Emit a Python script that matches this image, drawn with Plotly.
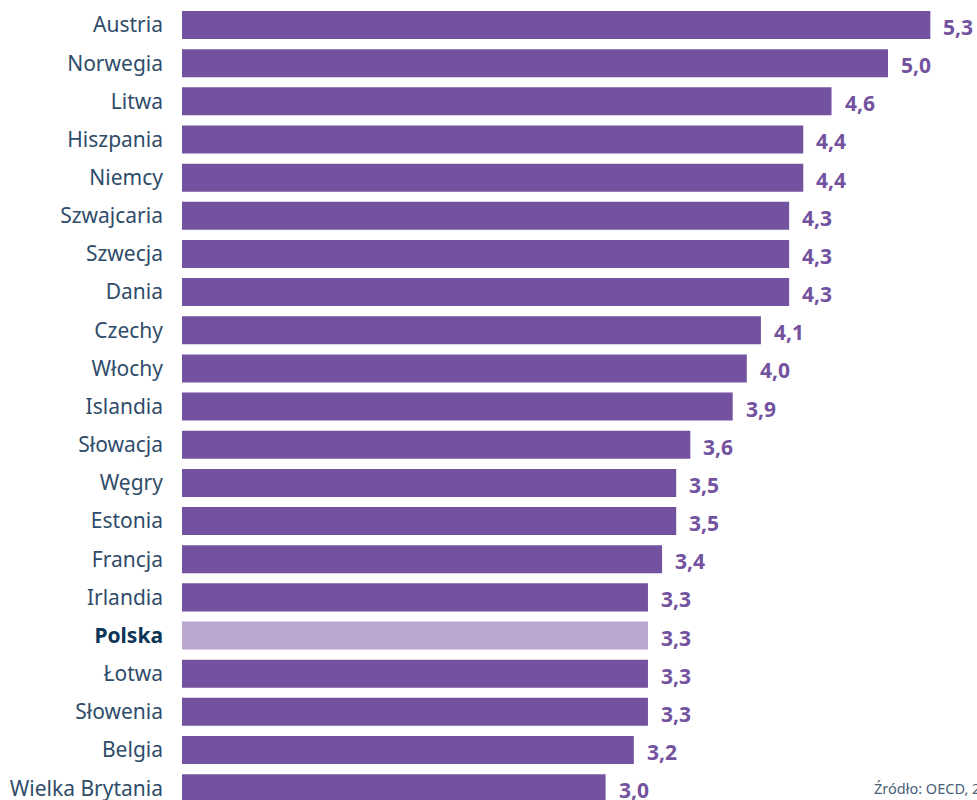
import plotly.graph_objects as go

countries = ["Austria", "Norwegia", "Litwa", "Hiszpania", "Niemcy", "Szwajcaria", "Szwecja",
             "Dania", "Czechy", "Włochy", "Islandia", "Słowacja", "Węgry", "Estonia", "Francja",
             "Irlandia", "Polska", "Łotwa", "Słowenia", "Belgia", "Wielka Brytania"]
values = [5.3, 5.0, 4.6, 4.4, 4.4, 4.3, 4.3, 4.3, 4.1, 4.0, 3.9, 3.6, 3.5, 3.5, 3.4,
          3.3, 3.3, 3.3, 3.3, 3.2, 3.0]
highlight = "Polska"
source_text = "Źródło: OECD, 2019"

BAR = "#7352a0"
HL = "#bba6cf"
LABEL = "#2f4c6a"
HL_LABEL = "#0d3557"

colors = [HL if c == highlight else BAR for c in countries]
ticktext = [f"<b><span style='color:{HL_LABEL}'>{c}</span></b>" if c == highlight else c for c in countries]
labels = [f"{v:.1f}".replace(".", ",") for v in values]

fig = go.Figure()
fig.add_trace(go.Bar(
    x=values, y=countries, orientation="h",
    marker=dict(color=colors, line=dict(width=0)),
    hoverinfo="skip",
))

for c, v, t in zip(countries, values, labels):
    fig.add_annotation(
        x=v, y=c, text=f"<b>{t}</b>", showarrow=False,
        xanchor="left", yanchor="middle", xshift=11, yshift=-2,
        font=dict(family="Noto Sans", size=21, color=BAR),
    )

fig.add_annotation(
    x=(872 - 182) / 795, y=12 / 800, xref="paper", yref="paper",
    text=source_text, showarrow=False, xanchor="left", yanchor="middle",
    font=dict(family="Noto Sans", size=14.5, color="#4a6178"),
)

fig.update_layout(
    width=977, height=800,
    margin=dict(l=182, r=0, t=0, b=0, pad=0, autoexpand=False),
    paper_bgcolor="white", plot_bgcolor="white",
    bargap=0.266,
    showlegend=False,
    font=dict(family="Noto Sans", size=21, color=LABEL),
    xaxis=dict(range=[0, 795 / 141.2], visible=False, fixedrange=True),
    yaxis=dict(
        tickmode="array", tickvals=countries, ticktext=ticktext,
        range=[20.31, -0.655], showgrid=False, zeroline=False, showline=False,
        ticks="", ticklabelstandoff=18, fixedrange=True,
        tickfont=dict(family="Noto Sans", size=21, color=LABEL),
        categoryorder="array", categoryarray=countries,
    ),
)

fig.write_html("out.html", config={"displayModeBar": False},
               post_script="document.body.style.margin='0';document.body.style.overflow='hidden';")
